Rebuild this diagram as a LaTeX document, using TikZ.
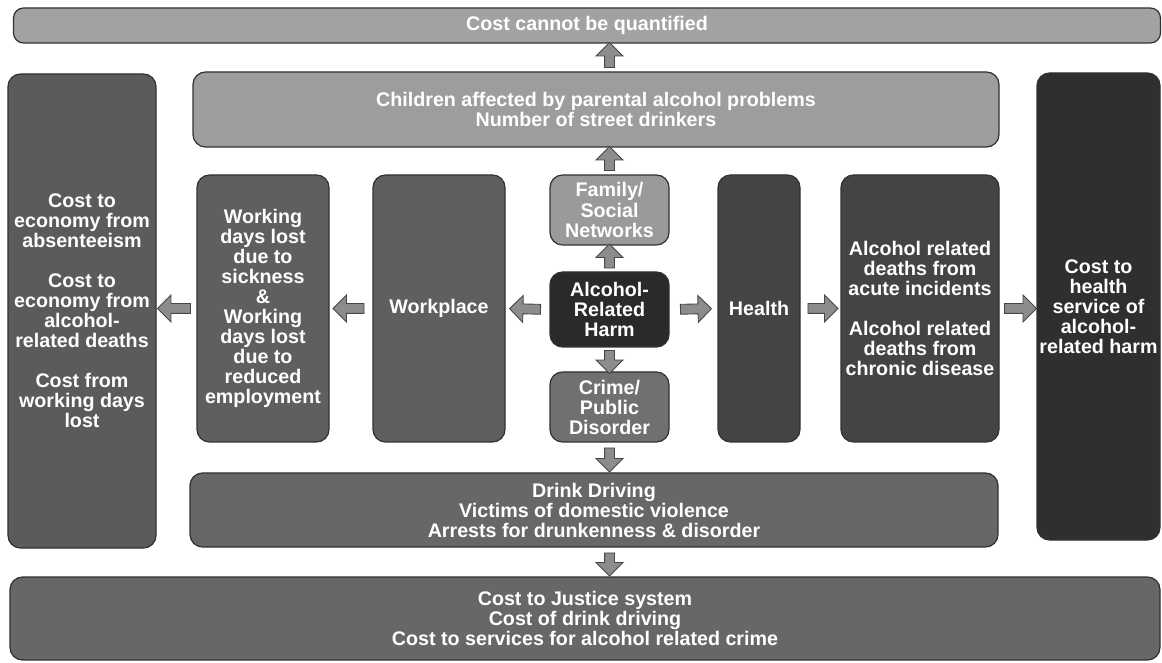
\documentclass[tikz,border=0pt]{standalone}
\usepackage{fontspec}
\setmainfont{Liberation Sans}
\usetikzlibrary{shapes.arrows}
\definecolor{boxline}{RGB}{50,50,50}
\definecolor{arrowline}{RGB}{70,70,70}
\definecolor{arrowgray}{RGB}{140,140,140}
\definecolor{palegray}{RGB}{162,162,162}
\definecolor{midgray}{RGB}{112,112,112}
\definecolor{darkgray}{RGB}{95,95,95}
\definecolor{deepgray}{RGB}{68,68,68}
\definecolor{blackgray}{RGB}{42,42,42}
\tikzset{
  harmbox/.style={draw=boxline, line width=0.7pt, rounded corners=0.25cm, text=white,
    font=\fontsize{11.2}{11.4}\selectfont\bfseries, align=center, inner sep=0pt},
  bigarrow/.style={single arrow, draw=arrowline, fill=arrowgray, line width=0.5pt,
    inner sep=0.09cm, single arrow head extend=0.17cm, minimum height=0.62cm,
    sloped, allow upside down},
}
\begin{document}
\begin{tikzpicture}
  \useasboundingbox (0,0) rectangle (23.24,-13.26);
  % outer row of costs
  \node (quant) at (11.74,-0.51) [harmbox, fill=palegray, minimum width=22.94cm, minimum height=0.70cm, rounded corners=0.2cm] {Cost cannot be quantified};
  \node (kids) at (11.92,-2.19) [harmbox, fill=palegray!97!black, minimum width=16.12cm, minimum height=1.50cm] {Children affected by parental alcohol problems\\Number of street drinkers};
  \node (econ) at (1.64,-6.22) [harmbox, fill=darkgray!96!black, minimum width=2.96cm, minimum height=9.48cm] {Cost to\\economy from\\absenteeism\\[0.4cm]Cost to\\economy from\\alcohol-\\related deaths\\[0.4cm]Cost from\\working days\\lost};
  \node (hcost) at (21.97,-6.13) [harmbox, fill=blackgray!80!deepgray, minimum width=2.46cm, minimum height=9.34cm] {Cost to\\health\\service of\\alcohol-\\related harm};
  \node (drink) at (11.88,-10.20) [harmbox, fill=midgray!92!black, minimum width=16.16cm, minimum height=1.48cm] {Drink Driving\\Victims of domestic violence\\Arrests for drunkenness \& disorder};
  \node (justice) at (11.70,-12.37) [harmbox, fill=midgray!92!black, minimum width=23.0cm, minimum height=1.66cm] {Cost to Justice system\\Cost of drink driving\\Cost to services for alcohol related crime};
  % inner row
  \node (days) at (5.26,-6.17) [harmbox, fill=darkgray, minimum width=2.64cm, minimum height=5.34cm] {Working\\days lost\\due to\\sickness\\\&\\Working\\days lost\\due to\\reduced\\employment};
  \node (work) at (8.78,-6.17) [harmbox, fill=darkgray, minimum width=2.64cm, minimum height=5.34cm] {Workplace};
  \node (family) at (12.19,-4.20) [harmbox, fill=palegray!95!black, minimum width=2.38cm, minimum height=1.40cm] {Family/\\Social\\Networks};
  \node (harm) at (12.19,-6.19) [harmbox, fill=blackgray, minimum width=2.38cm, minimum height=1.50cm] {Alcohol-\\Related\\Harm};
  \node (crime) at (12.19,-8.14) [harmbox, fill=midgray, minimum width=2.38cm, minimum height=1.40cm] {Crime/\\Public\\Disorder};
  \node (health) at (15.18,-6.17) [harmbox, fill=deepgray, minimum width=1.64cm, minimum height=5.34cm] {Health};
  \node (deaths) at (18.40,-6.17) [harmbox, fill=deepgray, minimum width=3.16cm, minimum height=5.34cm] {Alcohol related\\deaths from\\acute incidents\\[0.4cm]Alcohol related\\deaths from\\chronic disease};
  % block arrows
  \path (harm.north) -- (family.south) node[midway, bigarrow, minimum height=0.48cm] (a1) {};
  \path (family.north) -- (family.north |- kids.south) node[midway, bigarrow, minimum height=0.48cm] (a2) {};
  \path (family.north |- kids.north) -- (family.north |- quant.south) node[midway, bigarrow, minimum height=0.50cm] (a3) {};
  \path (harm.south) -- (crime.north) node[midway, bigarrow, minimum height=0.46cm] (a4) {};
  \path (crime.south) -- (crime.south |- drink.north) node[midway, bigarrow, minimum height=0.48cm] (a5) {};
  \path (crime.south |- drink.south) -- (crime.south |- justice.north) node[midway, bigarrow, minimum height=0.46cm] (a6) {};
  \path (harm.west) -- (work.east) node[midway, bigarrow] (a7) {};
  \path (work.west) -- (days.east) node[midway, bigarrow] (a8) {};
  \path (days.west) -- (days.west -| econ.east) node[midway, bigarrow, minimum height=0.66cm] (a9) {};
  \path (harm.east) -- (health.west) node[midway, bigarrow] (a10) {};
  \path (health.east) -- (deaths.west) node[midway, bigarrow, minimum height=0.60cm] (a11) {};
  \path (deaths.east) -- (deaths.east -| hcost.west) node[midway, bigarrow, minimum height=0.64cm] (a12) {};
\end{tikzpicture}
\end{document}
